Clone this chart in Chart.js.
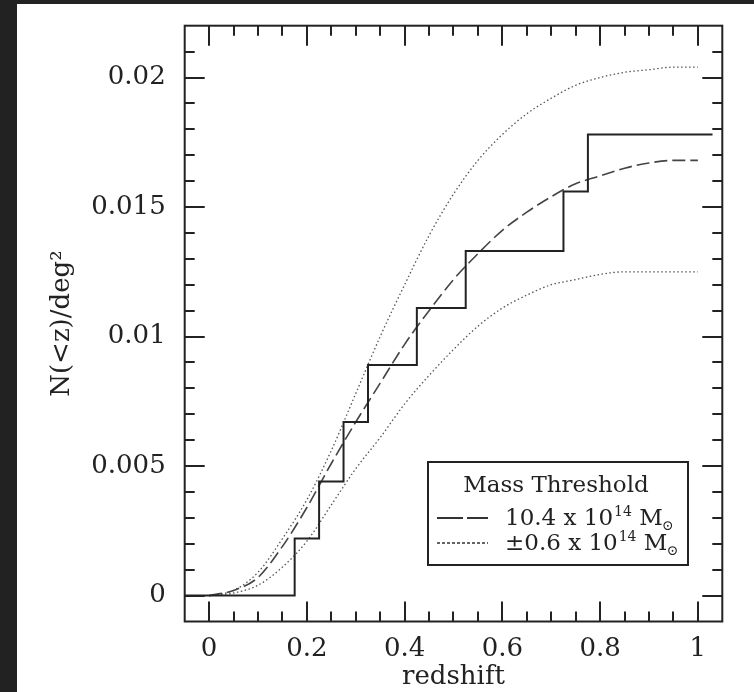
<!DOCTYPE html>
<html>
<head>
<meta charset="utf-8">
<script src="https://cdn.jsdelivr.net/npm/chart.js@4/dist/chart.umd.min.js"></script>
<style>
  html, body { margin: 0; padding: 0; background: #222; }
  #panel { position: absolute; left: 17px; top: 4px; width: 737px; height: 688px; background: #fff; }
</style>
</head>
<body>
<div id="panel"><canvas id="nz" width="737" height="688"></canvas></div>
<script>
// redshift grid for the model curves
const zGrid = [0, 0.05, 0.1, 0.15, 0.2, 0.25, 0.3, 0.35, 0.4, 0.45, 0.5,
               0.55, 0.6, 0.65, 0.7, 0.75, 0.8, 0.85, 0.9, 0.95, 1.0];
// model for 10.4e14 Msun threshold (dashed)
const midCurve = [0, 0.0002, 0.0007, 0.0019, 0.0034, 0.0051, 0.0067, 0.0082, 0.0097, 0.0110, 0.0122,
                  0.0132, 0.0141, 0.0148, 0.0154, 0.0159, 0.0162, 0.0165, 0.0167, 0.0168, 0.0168];
// +/- 0.6e14 Msun (dotted)
const upperCurve = [0, 0.0002, 0.0009, 0.0022, 0.0037, 0.0056, 0.0078, 0.0100, 0.0120, 0.0139, 0.0155,
                    0.0168, 0.0178, 0.0186, 0.0192, 0.0197, 0.0200, 0.0202, 0.0203, 0.0204, 0.0204];
const lowerCurve = [0, 0.0001, 0.0004, 0.0011, 0.0021, 0.0035, 0.0049, 0.0061, 0.0074, 0.0085, 0.0095,
                    0.0104, 0.0111, 0.0116, 0.0120, 0.0122, 0.0124, 0.0125, 0.0125, 0.0125, 0.0125];
// observed cumulative counts (step)
const stepZ = [-0.05, 0.175, 0.225, 0.275, 0.325, 0.425, 0.525, 0.725, 0.775, 1.03];
const stepN = [0, 0.0022, 0.0044, 0.0067, 0.0089, 0.0111, 0.0133, 0.0156, 0.0178, 0.0178];

const xTicks = [0, 0.2, 0.4, 0.6, 0.8, 1];
const xTickLabels = ['0', '0.2', '0.4', '0.6', '0.8', '1'];
const yTicks = [0, 0.005, 0.01, 0.015, 0.02];
const yTickLabels = ['0', '0.005', '0.01', '0.015', '0.02'];

const legendTitle = 'Mass Threshold';
const legendRows = [['10.4 x 10', '14', ' M', '\u2299'], ['\u00b10.6 x 10', '14', ' M', '\u2299']];

const ink = '#222';
const serif = 'DejaVu Serif';

const pts = (xs, ys) => xs.map((x, i) => ({ x: x, y: ys[i] }));

// frame + inward ticks on all four sides
const framePlugin = {
  id: 'frame',
  afterDatasetsDraw(chart) {
    const { ctx, chartArea: a, scales: { x, y } } = chart;
    ctx.save();
    ctx.strokeStyle = ink;
    ctx.lineWidth = 2;
    ctx.strokeRect(a.left, a.top, a.right - a.left, a.bottom - a.top);
    ctx.beginPath();
    for (let i = 0; i <= 20; i++) {
      const px = Math.round(x.getPixelForValue(i * 0.05));
      const len = i % 4 === 0 ? 20 : 10;
      ctx.moveTo(px, a.bottom); ctx.lineTo(px, a.bottom - len);
      ctx.moveTo(px, a.top); ctx.lineTo(px, a.top + len);
    }
    for (let i = 0; i <= 21; i++) {
      const py = Math.round(y.getPixelForValue(i * 0.001));
      const len = i % 5 === 0 ? 20 : 10;
      ctx.moveTo(a.left, py); ctx.lineTo(a.left + len, py);
      ctx.moveTo(a.right, py); ctx.lineTo(a.right - len, py);
    }
    ctx.stroke();
    ctx.restore();
  }
};

// boxed legend in lower right
const legendPlugin = {
  id: 'boxLegend',
  afterDraw(chart) {
    const ctx = chart.ctx;
    const bx = 411, by = 458, bw = 260, bh = 103;
    ctx.save();
    ctx.fillStyle = '#fff';
    ctx.fillRect(bx, by, bw, bh);
    ctx.strokeStyle = ink;
    ctx.lineWidth = 2;
    ctx.strokeRect(bx, by, bw, bh);
    ctx.fillStyle = ink;
    ctx.textBaseline = 'alphabetic';
    ctx.font = '23px "' + serif + '"';
    ctx.textAlign = 'center';
    ctx.fillText(legendTitle, bx + bw / 2 - 2, by + 30);
    ctx.textAlign = 'left';
    const styles = [{ dash: [26, 4], w: 1.8, c: '#333' }, { dash: [3, 2], w: 1.5, c: '#333' }];
    legendRows.forEach((r, i) => {
      const yy = by + 63 + i * 25;
      ctx.beginPath();
      ctx.setLineDash(styles[i].dash);
      ctx.lineWidth = styles[i].w;
      ctx.strokeStyle = styles[i].c;
      ctx.moveTo(bx + 9, yy - 7); ctx.lineTo(bx + 60, yy - 7);
      ctx.stroke();
      ctx.setLineDash([]);
      let tx = bx + 77;
      ctx.font = '23px "' + serif + '"';
      ctx.fillText(r[0], tx, yy); tx += ctx.measureText(r[0]).width + 1;
      ctx.font = '14px "' + serif + '"';
      ctx.fillText(r[1], tx, yy - 9); tx += ctx.measureText(r[1]).width;
      ctx.font = '23px "' + serif + '"';
      ctx.fillText(r[2], tx, yy); tx += ctx.measureText(r[2]).width;
      ctx.font = '14px "' + serif + '"';
      ctx.fillText(r[3], tx - 1, yy + 5);
    });
    ctx.restore();
  }
};

new Chart(document.getElementById('nz'), {
  type: 'line',
  data: {
    datasets: [
      { data: pts(stepZ, stepN), stepped: 'before', borderColor: ink, borderWidth: 2, pointRadius: 0 },
      { data: pts(zGrid, midCurve), borderColor: '#444', borderWidth: 1.6, borderDash: [13, 5], pointRadius: 0, cubicInterpolationMode: 'monotone' },
      { data: pts(zGrid, upperCurve), borderColor: '#555', borderWidth: 1.3, borderDash: [1.5, 2.5], pointRadius: 0, cubicInterpolationMode: 'monotone' },
      { data: pts(zGrid, lowerCurve), borderColor: '#555', borderWidth: 1.3, borderDash: [1.5, 2.5], pointRadius: 0, cubicInterpolationMode: 'monotone' }
    ]
  },
  plugins: [framePlugin, legendPlugin],
  options: {
    responsive: false,
    animation: false,
    events: [],
    layout: { padding: { left: 32.5, top: 21.7, right: 31.7, bottom: 1.5 } },
    plugins: { legend: { display: false }, tooltip: { enabled: false } },
    scales: {
      x: {
        type: 'linear', min: -0.05, max: 1.05,
        afterBuildTicks: s => { s.ticks = xTicks.map(v => ({ value: v })); },
        afterFit: s => { s.height = 69; s.paddingLeft = 0; s.paddingRight = 0; },
        grid: { display: false, drawTicks: false },
        border: { display: false },
        ticks: { padding: 12, color: ink, font: { family: serif, size: 26 }, maxRotation: 0,
                 callback: (v) => xTickLabels[xTicks.indexOf(v)] },
        title: { display: true, text: 'redshift', color: ink, padding: 0, font: { family: serif, size: 26, lineHeight: 1 } }
      },
      y: {
        type: 'linear', min: -0.001, max: 0.022,
        afterBuildTicks: s => { s.ticks = yTicks.map(v => ({ value: v })); },
        afterFit: s => { s.width = 135.2; s.paddingTop = 0; s.paddingBottom = 0; },
        grid: { display: false, drawTicks: false },
        border: { display: false },
        ticks: { padding: 19, color: ink, font: { family: serif, size: 26 },
                 callback: (v) => yTickLabels[yTicks.indexOf(v)] },
        title: { display: true, text: 'N(<z)/deg\u00b2', color: ink, padding: 0, font: { family: serif, size: 26, lineHeight: 1 } }
      }
    }
  }
});
</script>
</body>
</html>
